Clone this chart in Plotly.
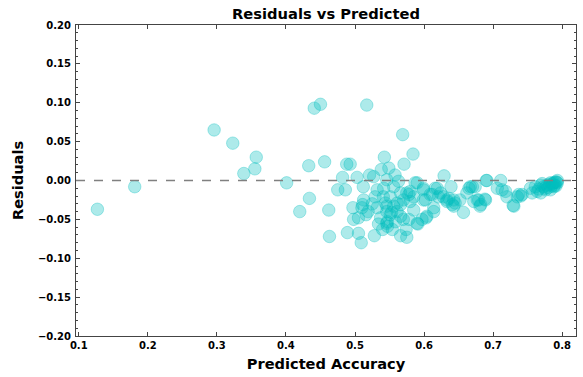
import plotly.graph_objects as go

predicted = [
    0.127, 0.181, 0.296, 0.323, 0.339, 0.355, 0.357,
    0.441, 0.450, 0.517, 0.569, 0.433, 0.456, 0.488, 0.493, 0.5425,
    0.401, 0.482, 0.475, 0.486, 0.503, 0.512, 0.521, 0.538,
    0.434, 0.420, 0.462, 0.463, 0.489, 0.505, 0.509, 0.528,
    0.497, 0.498, 0.510,
    0.584, 0.571, 0.629, 0.566, 0.575, 0.574, 0.585, 0.591, 0.603, 0.614, 0.633,
    0.549, 0.558, 0.563, 0.587, 0.599, 0.619,
    0.5125, 0.529, 0.532, 0.537, 0.546, 0.547, 0.547, 0.561, 0.566, 0.575,
    0.580, 0.566, 0.556, 0.5415, 0.532, 0.551, 0.570, 0.585, 0.602, 0.612,
    0.624, 0.527, 0.505,
    0.511, 0.519, 0.525, 0.516, 0.534, 0.540, 0.554, 0.5585, 0.544, 0.553,
    0.690, 0.667, 0.674, 0.657, 0.688, 0.677, 0.639, 0.643,
    0.621, 0.628, 0.636, 0.641, 0.614, 0.604, 0.597, 0.578, 0.590,
    0.599, 0.590, 0.580, 0.599, 0.609, 0.616,
    0.556, 0.546, 0.541, 0.546, 0.551, 0.546, 0.566, 0.561, 0.570, 0.578,
    0.633, 0.645, 0.652, 0.643, 0.665, 0.670, 0.662, 0.672, 0.679, 0.682,
    0.691, 0.706, 0.711, 0.713, 0.718, 0.720, 0.729, 0.735, 0.742,
    0.754, 0.7565, 0.764, 0.769, 0.761, 0.769, 0.773, 0.778, 0.783, 0.788, 0.793,
    0.780, 0.785, 0.790, 0.793, 0.776, 0.783, 0.788, 0.766, 0.771, 0.791,
    0.689, 0.681, 0.730, 0.740, 0.737, 0.781, 0.786, 0.789, 0.792, 0.775,
]

residuals = [
    -0.037, -0.008, 0.065, 0.048, 0.009, 0.015, 0.030,
    0.093, 0.098, 0.097, 0.059, 0.019, 0.024, 0.021, 0.021, 0.030,
    -0.003, 0.004, -0.012, -0.012, 0.004, -0.008, 0.007, 0.014,
    -0.023, -0.040, -0.038, -0.072, -0.067, -0.068, -0.080, -0.071,
    -0.035, -0.050, -0.035,
    0.034, 0.021, 0.006, -0.071, -0.073, -0.063, -0.038, -0.056, -0.048, -0.040, -0.027,
    0.016, 0.007, -0.001, -0.003, -0.012, -0.010,
    -0.025, -0.021, -0.035, -0.048, -0.040, -0.053, -0.059, -0.040, -0.016, -0.016,
    -0.027, -0.031, -0.033, -0.010, -0.012, -0.021, -0.050, -0.021, -0.025, -0.018,
    -0.016, 0.005, -0.048,
    -0.031, -0.040, -0.030, -0.044, -0.056, -0.063, -0.063, -0.053, -0.029, -0.041,
    0.000, -0.008, -0.008, -0.041, -0.024, -0.025, -0.008, -0.025,
    -0.021, -0.021, -0.023, -0.031, -0.035, -0.046, -0.050, -0.050, -0.055,
    -0.010, -0.003, -0.014, -0.025, -0.018, -0.010,
    -0.008, 0.001, -0.021, -0.033, -0.044, -0.055, -0.046, -0.029, -0.025, -0.018,
    -0.025, -0.029, -0.025, -0.033, -0.010, -0.008, -0.016, -0.027, -0.025, -0.031,
    0.000, -0.010, 0.000, -0.012, -0.014, -0.021, -0.032, -0.021, -0.018,
    -0.010, -0.016, -0.014, -0.016, -0.008, -0.006, -0.008, -0.006, -0.003, -0.003, -0.003,
    -0.009, -0.007, -0.002, 0.000, -0.012, -0.012, -0.008, -0.011, -0.004, -0.007,
    -0.025, -0.033, -0.033, -0.020, -0.018, -0.005, -0.004, -0.006, -0.002, -0.010,
]

x_ticks = [0.1, 0.2, 0.3, 0.4, 0.5, 0.6, 0.7, 0.8]
y_ticks = [-0.20, -0.15, -0.10, -0.05, 0.00, 0.05, 0.10, 0.15, 0.20]

BOLD = dict(family="DejaVu Sans", size=10, color="#000000", weight="bold")
AX_TITLE = dict(family="DejaVu Sans", size=14.6, color="#000000", weight="bold")

fig = go.Figure()
fig.add_trace(go.Scatter(
    x=predicted, y=residuals, mode="markers",
    marker=dict(size=12.5, color="rgba(0,191,191,0.32)",
                line=dict(width=1, color="rgba(0,191,191,0.32)")),
    showlegend=False, hoverinfo="skip",
))

fig.add_shape(type="line", xref="x domain", yref="y", x0=0, x1=1, y0=0, y1=0,
              line=dict(color="#808080", width=1.5, dash="dash"))

axis_common = dict(
    showgrid=False, zeroline=False, showline=True, linecolor="#444444", linewidth=1,
    mirror="allticks", ticks="inside", ticklen=4, tickcolor="#444444", tickwidth=1,
    tickfont=BOLD, automargin=False,
)

fig.update_xaxes(
    range=[0.096, 0.82], tickvals=x_ticks, tickformat=".1f",
    title=dict(text="Predicted Accuracy", font=AX_TITLE, standoff=8),
    **axis_common,
)
fig.update_yaxes(
    range=[-0.2, 0.2], tickvals=y_ticks, tickformat=".2f",
    title=dict(text="Residuals", font=AX_TITLE, standoff=10),
    ticklabelstandoff=2,
    minor=dict(ticks="inside", dtick=0.01, ticklen=2, tickcolor="#444444", showgrid=False),
    **axis_common,
)

fig.update_layout(
    width=583, height=377,
    margin=dict(l=76, r=7, t=25, b=41),
    plot_bgcolor="white", paper_bgcolor="white",
    title=dict(text="Residuals vs Predicted", xref="paper", x=0.5, xanchor="center",
               y=1 - 14 / 377, yanchor="middle",
               font=dict(family="DejaVu Sans", size=14.7, color="#000000", weight="bold")),
)

fig.write_html(
    "out.html",
    config={"displayModeBar": False, "staticPlot": True},
    post_script="document.body.style.margin='0';document.body.style.overflow='hidden';",
)
